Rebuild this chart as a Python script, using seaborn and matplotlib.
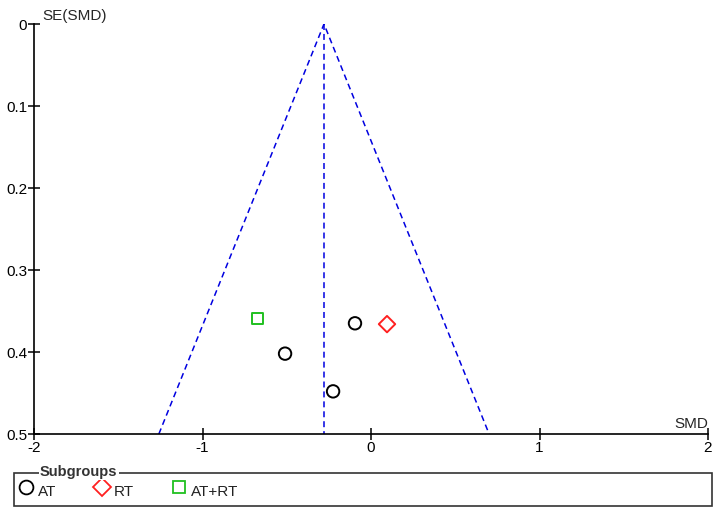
import matplotlib
matplotlib.use("Agg")
import matplotlib.pyplot as plt
from matplotlib.patches import Rectangle
from matplotlib.lines import Line2D
import seaborn as sns
import pandas as pd
import numpy as np

# Data
smd = [-0.095, -0.51, -0.225, 0.095, -0.675]
se = [0.365, 0.402, 0.448, 0.366, 0.359]
subgroup = ["AT", "AT", "AT", "RT", "AT+RT"]
pooled_smd = -0.279
se_max = 0.5

groups = ["AT", "RT", "AT+RT"]
colors = {"AT": "black", "RT": "#ff2020", "AT+RT": "#20c020"}
markers = {"AT": "o", "RT": "D", "AT+RT": "s"}
sizes = {"AT": 80, "RT": 70, "AT+RT": 60}

df = pd.DataFrame({"SMD": smd, "SE": se, "Subgroup": subgroup})

sns.set_style("white")
plt.rcParams["font.family"] = ["Liberation Sans", "DejaVu Sans"]

fig = plt.figure(figsize=(7.18, 5.16), dpi=100)
ax = fig.add_axes([34 / 718, 1 - 434 / 516, (708 - 34) / 718, (434 - 24) / 516])

# funnel lines
fx = [pooled_smd - 1.96 * se_max, pooled_smd, pooled_smd + 1.96 * se_max]
fy = [se_max, 0, se_max]
dash = (0, (3.9, 2.6))
ax.plot(fx, fy, color="#0000e0", ls=dash, lw=1.1)
ax.plot([pooled_smd, pooled_smd], [0, se_max], color="#0000e0", ls=dash, lw=1.1)

for g in groups:
    sub = df[df["Subgroup"] == g]
    sns.scatterplot(data=sub, x="SMD", y="SE", marker=markers[g], s=sizes[g],
                    facecolor="none", edgecolor=colors[g], linewidth=1.4, ax=ax,
                    legend=False, zorder=3)

ax.set_xlim(-2, 2)
ax.set_ylim(0.5, 0)
ax.set_xticks([-2, -1, 0, 1, 2])
ax.set_xticklabels(["-2", "-1", "0", "1", "2"])
ax.set_yticks([0, 0.1, 0.2, 0.3, 0.4, 0.5])
ax.set_yticklabels(["0", "0.1", "0.2", "0.3", "0.4", "0.5"])
ax.set_xlabel("")
ax.set_ylabel("")
for s in ["top", "right"]:
    ax.spines[s].set_visible(False)
for s in ["left", "bottom"]:
    ax.spines[s].set_color("black")
    ax.spines[s].set_linewidth(1.2)
ax.tick_params(axis="both", direction="inout", length=8, width=1.1, colors="black",
               labelsize=11, left=True, bottom=True)
ax.tick_params(axis="x", pad=1)
ax.tick_params(axis="y", pad=1)

fig.text(42 / 718, 1 - 16 / 516, "SE(SMD)", fontsize=11, va="center", ha="left")
fig.text(708 / 718, 1 - 424 / 516, "SMD", fontsize=11, va="center", ha="right")

# Legend box
fig.patches.append(Rectangle((14 / 718, 1 - 506 / 516), (712 - 14) / 718, (506 - 473) / 516,
                             transform=fig.transFigure, fill=False, edgecolor="#333333", lw=1.2))
fig.text(40 / 718, 1 - 472 / 516, "Subgroups", fontsize=10.5, fontweight="bold", color="#333333",
         va="center", ha="left", bbox=dict(facecolor="white", edgecolor="none", pad=1))
leg_x = {"AT": 26, "RT": 102, "AT+RT": 179}
for g in groups:
    x0 = leg_x[g]
    fig.lines.append(Line2D([x0 / 718], [1 - 487 / 516], transform=fig.transFigure,
                            marker=markers[g], markersize=np.sqrt(sizes[g]) + 1,
                            markerfacecolor="none", markeredgecolor=colors[g],
                            markeredgewidth=1.3, ls="none"))
    fig.text((x0 + 12) / 718, 1 - 492 / 516, g, fontsize=11, va="center", ha="left",
             color="#222222")

fig.savefig("out.png", dpi=100)
